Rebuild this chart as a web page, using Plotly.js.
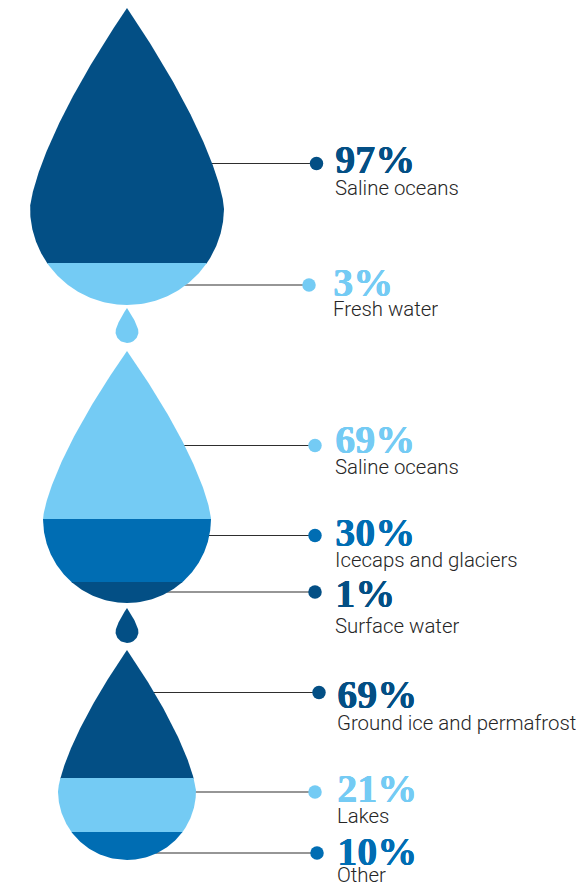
<!DOCTYPE html>
<html>
<head>
<meta charset="utf-8">
<script src="https://cdn.plot.ly/plotly-3.0.1.min.js"></script>
<style>
html,body{margin:0;padding:0;background:#ffffff;}
#chart{width:576px;height:886px;}
</style>
</head>
<body>
<div id="chart"></div>
<script>
// ---------------- DATA ----------------
const dropNames   = ['All water', 'Fresh water', 'Surface water'];
const itemDrop    = [0, 0, 1, 1, 1, 2, 2, 2];
const itemValues  = [97, 3, 69, 30, 1, 69, 21, 10];
const itemLabels  = ['Saline oceans', 'Fresh water', 'Saline oceans', 'Icecaps and glaciers',
                     'Surface water', 'Ground ice and permafrost', 'Lakes', 'Other'];
const itemShade   = ['dark', 'light', 'light', 'mid', 'dark', 'dark', 'light', 'mid'];

// ---------------- STYLE / LAYOUT GEOMETRY ----------------
const COLORS = {dark: '#034F85', mid: '#006DB3', light: '#74CBF4'};
const CX = 127;
const DROPS = [
  {ty: 8,   cy: 208,   r: 97},
  {ty: 351, cy: 519,   r: 84},
  {ty: 650, cy: 791,   r: 69}
];
const SMALL_DROPS = [
  {ty: 308, cy: 331.5, r: 11.5, shade: 'light'},
  {ty: 608, cy: 631.5, r: 11.5, shade: 'dark'}
];
const BAND_TOP  = [8, 263, 351, 519, 582, 650, 778, 832];
const LEADER_Y  = [163.5, 285, 445.5, 535.5, 592, 692.5, 792, 853];
const DOT_X     = [316.5, 309, 315, 315, 315, 319, 315, 317];
const PCT_Y     = [158.5, 282, 439, 532, 593, 694, 788, 851];
const LABEL_Y   = [187.5, 308.7, 466.7, 559, 626, 722, 815.7, 875];
const TEXT_X    = [333.5, 331.5, 333.5, 333.5, 333.5, 335.5, 335.5, 335.5];

function halfWidth(d, y) {
  if (y <= d.ty) return 0;
  if (y <= d.cy) {
    const t = (y - d.ty) / (d.cy - d.ty);
    return d.r * (1 - Math.pow(1 - t, 1.4));
  }
  const dy = y - d.cy;
  if (dy >= d.r) return 0;
  return Math.sqrt(d.r * d.r - dy * dy);
}

function bandPath(d, ya, yb) {
  const xs = [], ys = [];
  const step = 0.5;
  const pts = [];
  for (let y = ya; y < yb; y += step) pts.push(y);
  pts.push(yb);
  pts.forEach(y => { xs.push(CX + halfWidth(d, y)); ys.push(y); });
  for (let i = pts.length - 1; i >= 0; i--) { xs.push(CX - halfWidth(d, pts[i])); ys.push(pts[i]); }
  return {xs, ys};
}

const traces = [];

// leader lines (drawn first, under the drops)
itemValues.forEach((v, i) => {
  const d = DROPS[itemDrop[i]];
  const y = LEADER_Y[i];
  traces.push({
    type: 'scatter', mode: 'lines',
    x: [CX + halfWidth(d, y) - 2, DOT_X[i]], y: [y, y],
    line: {color: '#2e2e2e', width: 1.1},
    hoverinfo: 'skip', showlegend: false
  });
});

// drop bands
itemValues.forEach((v, i) => {
  const di = itemDrop[i];
  const d = DROPS[di];
  const ya = BAND_TOP[i];
  const isLast = (i + 1 >= itemValues.length) || itemDrop[i + 1] !== di;
  const yb = isLast ? d.cy + d.r : BAND_TOP[i + 1] + 0.7;
  const p = bandPath(d, ya, yb);
  traces.push({
    type: 'scatter', mode: 'lines', fill: 'toself',
    x: p.xs, y: p.ys,
    fillcolor: COLORS[itemShade[i]],
    line: {width: 0, color: COLORS[itemShade[i]]},
    hoverinfo: 'skip', showlegend: false, name: dropNames[di] + ' ' + itemLabels[i]
  });
});

// small drops
SMALL_DROPS.forEach(s => {
  const p = bandPath(s, s.ty, s.cy + s.r);
  traces.push({
    type: 'scatter', mode: 'lines', fill: 'toself',
    x: p.xs, y: p.ys,
    fillcolor: COLORS[s.shade],
    line: {width: 0, color: COLORS[s.shade]},
    hoverinfo: 'skip', showlegend: false
  });
});

// dots
traces.push({
  type: 'scatter', mode: 'markers',
  x: DOT_X, y: LEADER_Y,
  marker: {size: 13.5, color: itemShade.map(s => COLORS[s]), line: {width: 0}},
  hoverinfo: 'skip', showlegend: false
});

const annotations = [];
itemValues.forEach((v, i) => {
  const c = COLORS[itemShade[i]];
  annotations.push({
    x: TEXT_X[i], y: PCT_Y[i], xref: 'x', yref: 'y',
    text: '<b>' + v + '%</b>', showarrow: false,
    xanchor: 'left', yanchor: 'middle', valign: 'middle', borderpad: 0, height: 30,
    font: {family: '"Liberation Serif", "DejaVu Serif", serif', size: 40, color: c,
           shadow: '0.6px 0 0 ' + c + ', 0.3px 0.3px 0 ' + c}
  });
  const hasDesc = /[gjpqy]/.test(itemLabels[i]);
  annotations.push({
    x: TEXT_X[i], y: LABEL_Y[i], xref: 'x', yref: 'y',
    text: itemLabels[i], showarrow: false,
    xanchor: 'left', yanchor: 'middle', valign: 'middle', borderpad: 0, height: hasDesc ? 23 : 18,
    font: {family: 'Roboto, "Noto Sans", sans-serif', size: 20.4, weight: 300, color: '#262626'}
  });
});

const layout = {
  width: 576, height: 886,
  margin: {l: 0, r: 0, t: 0, b: 0, pad: 0},
  paper_bgcolor: '#ffffff', plot_bgcolor: '#ffffff',
  showlegend: false,
  xaxis: {range: [0, 576], visible: false, fixedrange: true},
  yaxis: {range: [886, 0], visible: false, fixedrange: true},
  annotations: annotations
};

Plotly.newPlot('chart', traces, layout, {staticPlot: true, displayModeBar: false});
</script>
</body>
</html>
